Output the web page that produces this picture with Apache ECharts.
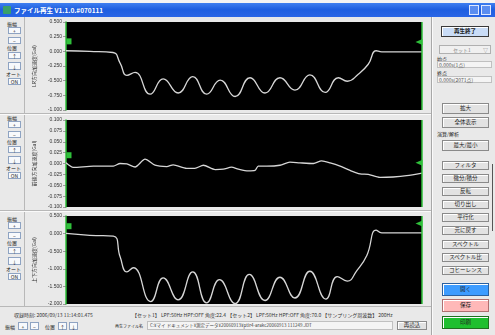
<!DOCTYPE html>
<html><head><meta charset="utf-8">
<script src="https://cdn.jsdelivr.net/npm/echarts@6/dist/echarts.min.js"></script>
<style>
html,body{margin:0;padding:0}
body{width:495px;height:335px;overflow:hidden;background:#e9e9e9;position:relative;font-family:"Noto Sans CJK JP","Noto Sans",sans-serif;color:#222}
.a{position:absolute;white-space:nowrap;line-height:1}
.t{font-size:5px}
.b{position:absolute;box-sizing:border-box;border:1px solid #8a8a8a;background:#e2e2e2;font-size:5.5px;text-align:center;display:flex;align-items:center;justify-content:center;line-height:1;box-shadow:inset 1px 1px 0 #fff}
.s{position:absolute;box-sizing:border-box;border:1px solid #8ea3c2;background:#f7f9fc;font-size:5px;text-align:center;display:flex;align-items:center;justify-content:center;line-height:1}
#chart{position:absolute;left:0;top:0;width:495px;height:335px}
</style></head>
<body>
<div class="a" style="left:0;top:0;width:495px;height:3px;background:#f4f4f4"></div>
<div class="a" style="left:0;top:3px;width:495px;height:14px;background:linear-gradient(#3f7ff0,#1f5fe0 45%,#2a66e6)"></div>
<div class="a" style="left:3px;top:6px;width:8px;height:8px;background:#3aa06a;border-radius:1px"></div>
<div class="a" style="left:14px;top:7px;font-size:6.5px;color:#fff;font-weight:bold">ファイル再生 V1.1.0.#070111</div>
<div class="a" style="left:469px;top:5px;width:10px;height:10px;background:#5b8df0;border:1px solid #dfe8ff;box-sizing:border-box"></div>
<div class="a" style="left:481px;top:5px;width:10px;height:10px;background:#5b8df0;border:1px solid #dfe8ff;box-sizing:border-box"></div>
<!-- separators -->
<div class="a" style="left:24px;top:17px;width:1px;height:289px;background:#b8b8b8"></div>
<div class="a" style="left:0;top:113px;width:431px;height:1px;background:#b8b8b8"></div>
<div class="a" style="left:0;top:114px;width:431px;height:1px;background:#fafafa"></div>
<div class="a" style="left:0;top:210px;width:431px;height:1px;background:#b8b8b8"></div>
<div class="a" style="left:0;top:211px;width:431px;height:1px;background:#fafafa"></div>
<div class="a" style="left:0;top:306px;width:431px;height:1px;background:#b8b8b8"></div>
<div class="a" style="left:431px;top:17px;width:1px;height:318px;background:#a8a8a8"></div>
<div class="a" style="left:432px;top:17px;width:1px;height:318px;background:#fafafa"></div>
<div id="left"></div>
<!-- right panel -->
<div class="b" style="left:441px;top:26px;width:48px;height:11px;background:#c9dcf6;border-color:#3a3a3a;font-weight:bold">再生終了</div>
<div class="a" style="left:439px;top:45px;width:52px;height:9px;border:1px solid #b0b0b0;background:#f0f0f0;box-sizing:border-box"></div>
<div class="a t" style="left:453px;top:47px;color:#888">セット1</div>
<div class="a t" style="left:483px;top:47px;color:#888">▽</div>
<div class="a t" style="left:437px;top:56px">始点</div>
<div class="a" style="left:437px;top:61px;width:55px;height:7px;border:1px solid #c0c0c0;background:#f4f4f4;box-sizing:border-box"></div>
<div class="a t" style="left:439px;top:62px;color:#555">0.000s(1点)</div>
<div class="a t" style="left:437px;top:70px">終点</div>
<div class="a" style="left:437px;top:76px;width:55px;height:7px;border:1px solid #c0c0c0;background:#f4f4f4;box-sizing:border-box"></div>
<div class="a t" style="left:439px;top:77px;color:#555">0.000s(2071点)</div>
<div class="b" style="left:442px;top:103px;width:47px;height:11px">拡大</div>
<div class="b" style="left:442px;top:117px;width:47px;height:11px">全体表示</div>
<div class="a t" style="left:437px;top:131px">演算/解析</div>
<div class="b" style="left:442px;top:140px;width:47px;height:11px">最大/最小</div>
<div class="b" style="left:442px;top:161px;width:47px;height:9px">フィルタ</div>
<div class="b" style="left:442px;top:174px;width:47px;height:9px">微分/積分</div>
<div class="b" style="left:442px;top:187px;width:47px;height:9px">反転</div>
<div class="b" style="left:442px;top:200px;width:47px;height:9px">切り出し</div>
<div class="b" style="left:442px;top:213px;width:47px;height:9px">平行化</div>
<div class="b" style="left:442px;top:226px;width:47px;height:9px">元に戻す</div>
<div class="a" style="left:492px;top:164px;width:1px;height:67px;background:#555"></div>
<div class="b" style="left:442px;top:240px;width:47px;height:9px">スペクトル</div>
<div class="b" style="left:442px;top:253px;width:47px;height:9px">スペクトル比</div>
<div class="b" style="left:442px;top:266px;width:47px;height:9px">コヒーレンス</div>
<div class="b" style="left:442px;top:283px;width:47px;height:13px;background:#3d9cff;border-color:#2a60a0">開く</div>
<div class="b" style="left:442px;top:299px;width:47px;height:13px;background:#ffb8b8;border-color:#b07070">保存</div>
<div class="b" style="left:442px;top:316px;width:47px;height:13px;background:#1fbf2f;border-color:#207020">印刷</div>
<!-- bottom -->
<div class="a t" style="left:14px;top:312px;color:#333">収録時刻: 2006/09/13 11:14:01.475</div>
<div class="a t" style="left:132px;top:312px;color:#333">【セット1】 LPF:50Hz HPF:OFF 角度:22.4 【セット2】 LPF:50Hz HPF:OFF 角度:70.0 【サンプリング周波数】 200Hz</div>
<div class="a t" style="left:5px;top:324px">振幅</div>
<div class="s" style="left:18px;top:322px;width:10px;height:8px">+</div>
<div class="s" style="left:30px;top:322px;width:9px;height:8px">−</div>
<div class="a t" style="left:45px;top:324px">位置</div>
<div class="s" style="left:58px;top:322px;width:9px;height:8px">↑</div>
<div class="s" style="left:69px;top:322px;width:9px;height:8px">↓</div>
<div class="a" style="left:115px;top:324px;font-size:4px">再生ファイル名</div>
<div class="a" style="left:147px;top:321px;width:246px;height:9px;border:1px solid #c0c0c0;background:#f4f4f4;box-sizing:border-box"></div>
<div class="a" style="left:150px;top:323px;color:#444;font-size:4.5px">C:¥マイ ドキュメント¥測定データ¥20060913¥ptlr4-arakc20060913 111249.JDT</div>
<div class="b" style="left:397px;top:321px;width:30px;height:9px">再読込</div>
<div id="chart"></div>
<script>
// ---- data ----
const time1 = [0, 6.7, 13.2, 15.2, 17.1, 19.4, 23.6, 27.3, 31.5, 35.6, 39.5, 43.3, 47.5, 51.7, 55.9, 60.1, 64.3, 68.5, 72.8, 76.5, 79.0, 82.1, 84.9, 87.1, 88.7, 100];
const accelLR = [0.01, 0.0, -0.02, -0.2, -0.41, -0.36, -0.73, -0.47, -0.71, -0.43, -0.73, -0.49, -0.77, -0.45, -0.71, -0.45, -0.66, -0.40, -0.70, -0.45, -0.51, -0.39, -0.22, 0.01, -0.01, -0.01];
const time2 = [0, 2.05, 7.67, 13.3, 15.2, 17.1, 19.4, 22.2, 25.0, 28.3, 30.1, 33.9, 36.2, 38.6, 41.9, 44.2, 46.5, 48.4, 51.2, 53.1, 54.0, 56.4, 60.1, 62.9, 65.7, 69.5, 71.8, 74.2, 77.0, 79.8, 82.6, 84.9, 88.2, 91.9, 95.7, 100];
const accelFB = [0.0015, -0.009, -0.006, -0.006, 0.0, -0.001, -0.008, 0.010, -0.004, -0.007, -0.003, -0.011, -0.011, -0.004, -0.014, -0.013, -0.0085, -0.013, -0.017, -0.016, -0.006, -0.006, -0.004, 0.003, 0.0015, 0.0, 0.006, 0.0015, -0.006, -0.016, -0.024, -0.025, -0.032, -0.031, -0.028, -0.022];
const time3 = [0, 6.7, 13.3, 15.2, 17.1, 18.9, 23.8, 27.3, 31.5, 35.6, 39.5, 43.1, 47.5, 51.5, 55.9, 60.1, 64.3, 68.5, 73.0, 76.2, 79.0, 81.7, 84.5, 87.1, 88.7, 100];
const accelUD = [0.005, -0.05, -0.07, -0.66, -1.09, -0.97, -1.93, -1.26, -1.88, -1.09, -1.97, -1.31, -1.99, -1.16, -1.90, -1.24, -1.83, -1.07, -1.86, -1.22, -1.35, -1.05, -0.62, 0.10, 0.02, 0.02];
const axisTitles = ['LR方向加速度(Gal)', '前後方向加速度(Gal)', '上下方向加速度(Gal)'];
const yMin = [-1.0, -0.1, -2.0];
const yMax = [0.5, 0.1, 0.5];
const yStep = [0.25, 0.025, 0.5];
const cursorLeft = [0.17, 0.019, 0.21];
const cursorRight = [0.16, 0.0015, 0.29];
const ctrlLabels = ['振幅', '+', '−', '位置', '↑', '↓', 'オート', 'ON'];

// left control columns
const tops = [20, 114, 215];
let html = '';
tops.forEach(b => {
  html += `<div class="a t" style="left:7px;top:${b+1}px">${ctrlLabels[0]}</div>`;
  html += `<div class="s" style="left:8px;top:${b+7}px;width:13px;height:7px">${ctrlLabels[1]}</div>`;
  html += `<div class="s" style="left:8px;top:${b+17}px;width:13px;height:7px">${ctrlLabels[2]}</div>`;
  html += `<div class="a t" style="left:7px;top:${b+25}px">${ctrlLabels[3]}</div>`;
  html += `<div class="s" style="left:8px;top:${b+32}px;width:13px;height:7px">${ctrlLabels[4]}</div>`;
  html += `<div class="s" style="left:8px;top:${b+42}px;width:13px;height:8px">${ctrlLabels[5]}</div>`;
  html += `<div class="a t" style="left:6px;top:${b+51}px">${ctrlLabels[6]}</div>`;
  html += `<div class="s" style="left:8px;top:${b+58}px;width:13px;height:7px">${ctrlLabels[7]}</div>`;
});
document.getElementById('left').innerHTML = html;

const grids = [
  {left: 66, top: 22, width: 356, height: 88},
  {left: 66, top: 120, width: 356, height: 87},
  {left: 66, top: 216, width: 356, height: 88}
];
const times = [time1, time2, time3];
const vals = [accelLR, accelFB, accelUD];
const smooths = [0.5, 0.25, 0.5];
const green = '#2fbf3a';

const option = {
  animation: false,
  backgroundColor: 'transparent',
  grid: grids.map(g => Object.assign({show: true, backgroundColor: '#000', borderWidth: 0}, g)),
  xAxis: grids.map((g, i) => ({type: 'value', gridIndex: i, min: 0, max: 100, show: false})),
  yAxis: grids.map((g, i) => ({
    type: 'value', gridIndex: i, min: yMin[i], max: yMax[i], interval: yStep[i],
    name: axisTitles[i], nameLocation: 'middle', nameGap: 26,
    nameTextStyle: {fontSize: 5, color: '#333', fontFamily: 'Noto Sans CJK JP'},
    axisLine: {show: true, lineStyle: {color: green, width: 1.5}},
    axisTick: {show: true, length: 3, lineStyle: {color: '#666', width: 0.6}},
    axisLabel: {fontSize: 5, color: '#333', margin: 4, formatter: v => v.toFixed(3), fontFamily: 'Liberation Sans'},
    splitLine: {show: false}
  })),
  series: grids.map((g, i) => ({
    type: 'line', xAxisIndex: i, yAxisIndex: i,
    data: times[i].map((t, k) => [t, vals[i][k]]),
    smooth: smooths[i], showSymbol: false,
    lineStyle: {color: '#d6d6d6', width: 1.3},
    markLine: {silent: true, symbol: 'none', label: {show: false},
      lineStyle: {color: green, width: 1.5, type: 'solid'},
      data: [{xAxis: 100}]},
    markPoint: {silent: true, label: {show: false},
      data: [
        {coord: [0, cursorLeft[i]], symbol: 'rect', symbolSize: [5, 6], symbolOffset: [3, 0], itemStyle: {color: green}},
        {coord: [100, cursorRight[i]], symbol: 'triangle', symbolRotate: 90, symbolSize: [6, 7], symbolOffset: [-3, 0], itemStyle: {color: green}}
      ]}
  }))
};
const chart = echarts.init(document.getElementById('chart'), null, {renderer: 'canvas'});
chart.setOption(option);
</script>
</body></html>
